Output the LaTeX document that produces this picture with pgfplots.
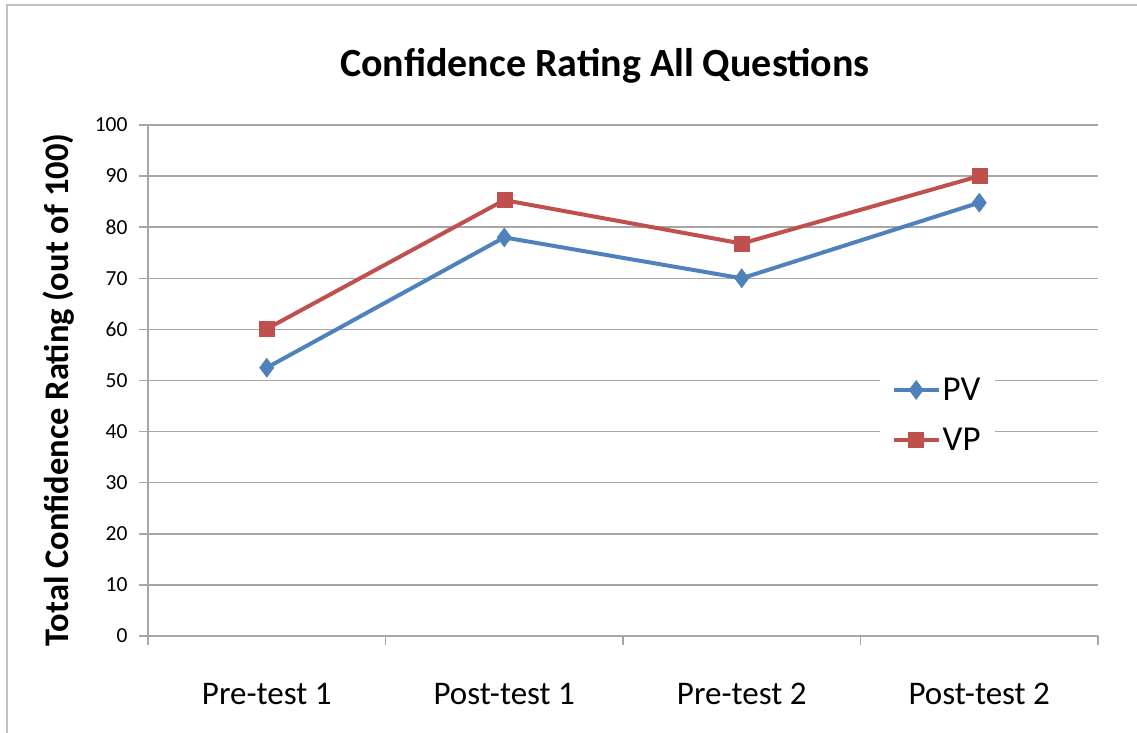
\documentclass[border=0pt]{standalone}
\usepackage{pgfplots}
\pgfplotsset{compat=1.18}
\usepackage{fontspec}
\setmainfont{Carlito}
\definecolor{pvblue}{HTML}{4F81BD}
\definecolor{vpred}{HTML}{C0504D}
\definecolor{gridgray}{HTML}{A6A6A6}
\begin{document}
\begin{tikzpicture}[x=1pt,y=1pt]
\useasboundingbox (0,0) rectangle (1137,733);
\draw[color=gridgray!70, line width=1.5pt] (7,0) -- (7,728) -- (1137,728);
\node[font=\fontsize{40}{46}\selectfont\bfseries] at (605,667) {Confidence Rating All Questions};
\node[font=\fontsize{34.5}{40}\selectfont\bfseries, rotate=90, inner sep=0pt] at (59,343) {Total Confidence Rating (out of 100)};
\begin{axis}[
  at={(148pt,97pt)}, anchor=south west,
  scale only axis, width=950pt, height=511pt,
  xmin=0.5, xmax=4.5, ymin=0, ymax=100,
  xtick={0.5,1.5,2.5,3.5,4.5},
  x tick label as interval,
  xticklabels={Pre-test 1,Post-test 1,Pre-test 2,Post-test 2},
  ytick={0,10,...,100},
  ymajorgrids, grid style={gridgray, line width=1.5pt},
  axis x line*=bottom, axis y line*=left,
  axis line style={gridgray, line width=1.5pt},
  tick style={gridgray, line width=1.5pt},
  tick align=outside, major tick length=9pt,
  /pgf/number format/assume math mode=true,
  yticklabel style={font=\fontsize{21.5}{25}\selectfont, xshift=-8pt},
  xticklabel style={font=\fontsize{33}{38}\selectfont, yshift=-35pt},
  legend style={at={(0.77,0.525)}, anchor=north west, draw=none, fill=white,
    font=\fontsize{35}{40}\selectfont, row sep=22pt, inner xsep=12pt, inner ysep=8pt},
  legend cell align=left,
  legend image code/.code={\draw[#1, line width=4pt] (0pt,0pt) -- (45pt,0pt); \draw[#1, mark repeat=1] plot coordinates {(22.5pt,0pt)};},
  clip=false,
]
\addplot[pvblue, line width=4pt, mark=diamond*, mark size=9.5pt, mark options={solid, line width=0.5pt, fill=pvblue}]
  coordinates {(1,52.5) (2,78) (3,70) (4,84.8)};
\addlegendentry{PV}
\addplot[vpred, line width=4pt, mark=square*, mark size=7.5pt, mark options={solid, line width=0.5pt, fill=vpred}]
  coordinates {(1,60.1) (2,85.3) (3,76.8) (4,90)};
\addlegendentry{VP}
\end{axis}
\end{tikzpicture}
\end{document}
